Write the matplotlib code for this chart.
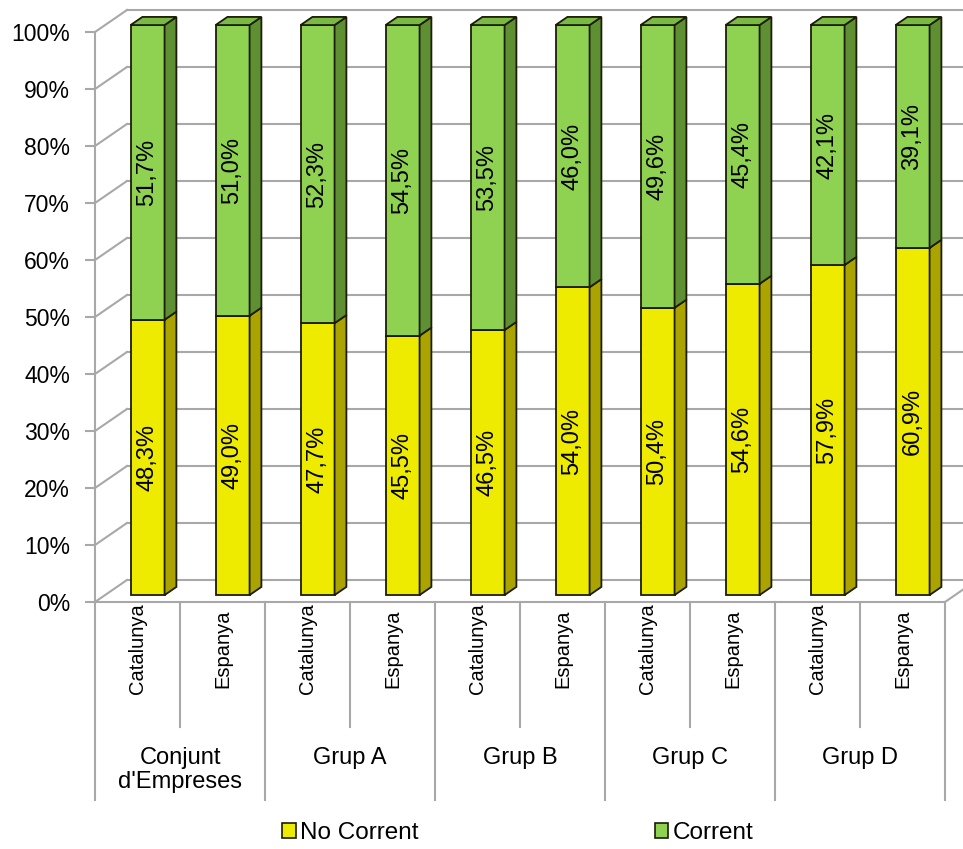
import matplotlib.pyplot as plt
from matplotlib.patches import Polygon, Patch

plt.rcParams['font.family'] = ['Liberation Sans', 'DejaVu Sans']

# Dades
grups = ['Conjunt\nd\'Empreses', 'Grup A', 'Grup B', 'Grup C', 'Grup D']
ambits = ['Catalunya', 'Espanya'] * 5
no_corrent = [48.3, 49.0, 47.7, 45.5, 46.5, 54.0, 50.4, 54.6, 57.9, 60.9]
corrent = [51.7, 51.0, 52.3, 54.5, 53.5, 46.0, 49.6, 45.4, 42.1, 39.1]
series = ['No Corrent', 'Corrent']

# colors (cara frontal, lateral, superior)
colors = {
    'No Corrent': ('#eeea00', '#aaa300', '#c9c400'),
    'Corrent': ('#8fd150', '#5f8f33', '#79b944'),
}
grid_color = '#a8a8a8'
edge = '#1c1c08'

# perspectiva: desplaçament de tota la profunditat en unitats de dades
DX, DY = 0.376, 3.86
D0, DD = 0.315, 0.37   # posició i gruix de la barra en profunditat
W = 0.40

fig = plt.figure(figsize=(9.63, 8.49), dpi=100)
ax = fig.add_axes([95 / 963, 1 - 602 / 849, 850 / 963, 570 / 849])
n = len(ambits)
ax.set_xlim(-0.5, n - 0.5)
ax.set_ylim(0, 100)

# parets i terra
for v in range(0, 101, 10):
    ax.plot([-0.5 + DX, n - 0.5 + DX], [v + DY, v + DY], color=grid_color,
            lw=1.5, clip_on=False, zorder=1)
    ax.plot([-0.5, -0.5 + DX], [v, v + DY], color=grid_color, lw=1.5,
            clip_on=False, zorder=1)
ax.plot([n - 0.5, n - 0.5 + DX], [0, DY], color=grid_color, lw=1.5,
        clip_on=False, zorder=1)

for sp in ['top', 'right']:
    ax.spines[sp].set_visible(False)
for sp in ['left', 'bottom']:
    ax.spines[sp].set_color(grid_color)
    ax.spines[sp].set_linewidth(1.5)

ax.set_yticks(range(0, 101, 10))
ax.set_yticklabels([f'{v}%' for v in range(0, 101, 10)], fontsize=16.5)
ax.tick_params(axis='y', length=7, width=1.5, color=grid_color, pad=11)
ax.set_xticks([])

# barres apilades amb cares laterals
for i in range(n):
    cx = i + D0 * DX
    oy = D0 * DY
    base = 0
    segs = [('No Corrent', no_corrent[i]), ('Corrent', corrent[i])]
    for k, (name, val) in enumerate(segs):
        front, side, top = colors[name]
        ax.bar(cx, val, bottom=base + oy, width=W, color=front,
               edgecolor=edge, linewidth=1.3, zorder=3 + i, clip_on=False)
        xr = cx + W / 2
        xl = cx - W / 2
        ax.add_patch(Polygon([(xr, base + oy), (xr + DD * DX, base + oy + DD * DY),
                              (xr + DD * DX, base + val + oy + DD * DY),
                              (xr, base + val + oy)], closed=True,
                             facecolor=side, edgecolor=edge, lw=1.3,
                             zorder=3 + i, clip_on=False))
        if k == len(segs) - 1:
            t = base + val + oy
            ax.add_patch(Polygon([(xl, t), (xr, t), (xr + DD * DX, t + DD * DY),
                                  (xl + DD * DX, t + DD * DY)], closed=True,
                                 facecolor=top, edgecolor=edge, lw=1.3,
                                 zorder=3 + i, clip_on=False))
        ax.text(cx, base + val / 2 + oy, f'{val:.1f}%'.replace('.', ','),
                rotation=90, ha='center', va='center', fontsize=17,
                zorder=20)
        base += val

# eix de categories en dos nivells
for g in range(len(grups) + 1):
    ax.plot([2 * g - 0.5] * 2, [0, -34.7], color=grid_color, lw=1.5,
            clip_on=False)
for g in range(len(grups)):
    ax.plot([2 * g + 0.5] * 2, [0, -21.9], color=grid_color, lw=1.5,
            clip_on=False)
    ax.text(2 * g + 0.5, -25.4, grups[g], ha='center', va='top',
            fontsize=17, linespacing=1.15)
for i, a in enumerate(ambits):
    ax.text(i, -8.2, a, rotation=90, ha='center', va='center', fontsize=14.5)

handles = [Patch(facecolor=colors[s][0], edgecolor=edge, lw=1.2) for s in series]
fig.legend(handles, series, loc='center', ncol=2, frameon=False,
           bbox_to_anchor=(518 / 963, 1 - 833 / 849), fontsize=17.5,
           handlelength=0.55, handleheight=0.55, handletextpad=0.2,
           columnspacing=9.7)

fig.savefig('out.png', dpi=100)
